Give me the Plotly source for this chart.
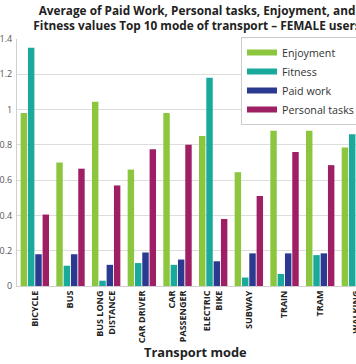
import plotly.graph_objects as go

categories = ["BICYCLE", "BUS", "BUS LONG<br>DISTANCE", "CAR DRIVER", "CAR<br>PASSENGER",
              "ELECTRIC<br>BIKE", "SUBWAY", "TRAIN", "TRAM", "WALKING"]
enjoyment = [0.98, 0.70, 1.045, 0.66, 0.98, 0.85, 0.645, 0.88, 0.88, 0.785]
fitness = [1.35, 0.115, 0.03, 0.13, 0.12, 1.18, 0.048, 0.068, 0.175, 0.86]
paid_work = [0.18, 0.18, 0.12, 0.19, 0.15, 0.14, 0.185, 0.185, 0.185, 0.15]
personal_tasks = [0.405, 0.665, 0.57, 0.775, 0.80, 0.38, 0.51, 0.76, 0.685, 0.50]

series_names = ["Enjoyment", "Fitness", "Paid work", "Personal tasks"]
series_values = [enjoyment, fitness, paid_work, personal_tasks]
colors = ["#8cc63f", "#19aa9c", "#2b3990", "#9e1f63"]

W, H = 356, 364
ML, MT, MB = 17, 39, 78
plot_w = W - ML
plot_h = H - MT - MB
cat_px = 35.67

fig = go.Figure()
x_idx = list(range(len(categories)))
for name, vals, col in zip(series_names, series_values, colors):
    fig.add_trace(go.Bar(x=x_idx, y=vals, name=name, marker=dict(color=col, line=dict(width=0)),
                         showlegend=False))
for name, col in zip(series_names, colors):
    fig.add_trace(go.Scatter(x=[None], y=[None], mode="lines", name=name,
                             line=dict(color=col, width=6)))

font_family = "Open Sans, Noto Sans, DejaVu Sans, sans-serif"

fig.update_layout(
    width=W, height=H,
    margin=dict(l=ML, r=0, t=MT, b=MB, pad=0, autoexpand=False),
    paper_bgcolor="white", plot_bgcolor="white",
    barmode="group", bargap=0.18, bargroupgap=0.12,
    font=dict(family=font_family, color="#333333"),
    title=dict(
        text="<b>Average of Paid Work, Personal tasks, Enjoyment, and<br>Fitness values Top 10 mode of transport – FEMALE users</b>",
        x=197 / W, xref="container", xanchor="center",
        y=1 - 14.5 / H, yref="container", yanchor="middle",
        font=dict(size=11.8, color="#222222", family=font_family),
    ),
    xaxis=dict(
        range=[-0.5, -0.5 + plot_w / cat_px],
        tickmode="array", tickvals=x_idx,
        ticktext=["<b>" + c.replace("<br>", "</b><br><b>") + "</b>" for c in categories],
        tickangle=-90, tickfont=dict(size=9, color="#222222"),
        showgrid=False, showline=True, linecolor="#d0d0d0", linewidth=1,
        ticks="", ticklen=0, automargin=False, ticklabeloverflow="allow",
    ),
    yaxis=dict(
        range=[0, 1.4], tickvals=[0, 0.2, 0.4, 0.6, 0.8, 1, 1.2, 1.4],
        ticktext=["0", "0.2", "0.4", "0.6", "0.8", "1", "1.2", "1.4"],
        tickfont=dict(size=9, color="#555555"),
        showgrid=True, gridcolor="#dddddd", gridwidth=1,
        showline=True, linecolor="#d0d0d0", linewidth=1,
        zeroline=False, ticks="", ticklabelstandoff=2, automargin=False,
    ),
    legend=dict(
        x=(241 - ML) / plot_w, xanchor="left",
        y=1 + 2 / plot_h, yanchor="top",
        bgcolor="white", bordercolor="#cccccc", borderwidth=1,
        font=dict(size=10.7, color="#333333"),
        tracegroupgap=0,
    ),
    annotations=[dict(
        text="<b>Transport mode</b>", xref="paper", yref="paper",
        x=(195.5 - ML) / plot_w, y=-66 / plot_h, xanchor="center", yanchor="middle",
        showarrow=False, font=dict(size=12.8, color="#222222", family=font_family),
    )],
)

fig.write_html("out.html", config={"displayModeBar": False},
               post_script="document.body.style.margin='0';")
